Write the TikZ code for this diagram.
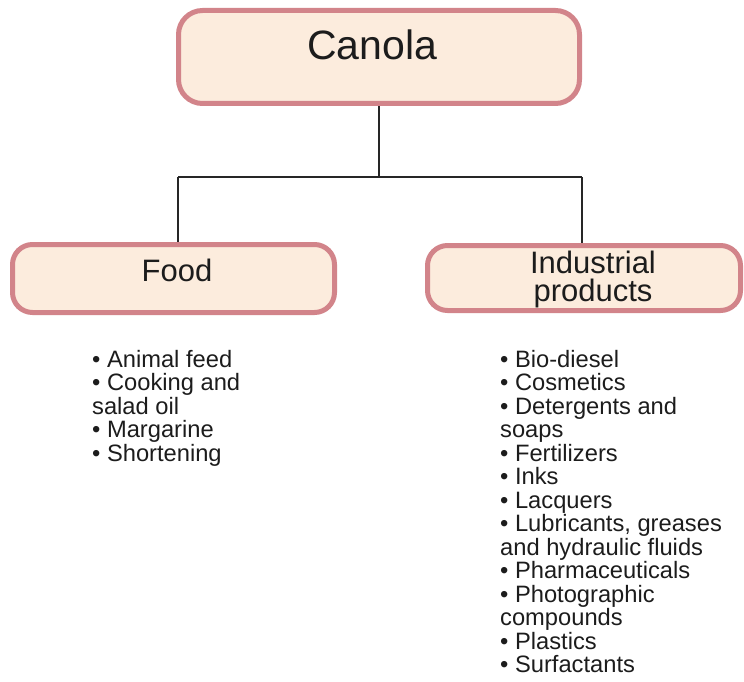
\documentclass[tikz,border=0pt]{standalone}
\usepackage{fontspec}
\setmainfont{Liberation Sans}
\usetikzlibrary{backgrounds}
\definecolor{boxfill}{RGB}{252,236,221}
\definecolor{boxline}{RGB}{210,132,138}
\definecolor{txt}{RGB}{28,28,28}
\begin{document}
\begin{tikzpicture}[x=1pt,y=-1pt,
  box/.style={draw=boxline, line width=5pt, fill=boxfill, rounded corners=20pt, inner sep=0pt},
  conn/.style={draw=black!85, line width=1.5pt},
  title/.style={font=\fontsize{31}{28}\selectfont, text=txt, inner sep=0pt, align=center},
  items/.style={font=\fontsize{23.7}{23.5}\selectfont, text=txt, inner sep=0pt, align=left, anchor=north west}]
\useasboundingbox (0,0) rectangle (744,682);
\node[box, rounded corners=24pt, minimum width=401pt, minimum height=93pt] (canola) at (379,57) {};
\node[box, minimum width=322pt, minimum height=68pt] (food) at (173.5,278.5) {};
\node[box, minimum width=313pt, minimum height=65pt] (ind) at (584,278) {};
\coordinate (jc) at (379,177);
\coordinate (jl) at (178,177);
\coordinate (jr) at (582,177);
\begin{scope}[on background layer]
\draw[conn] (canola.south) -- (jc);
\draw[conn] (jl) -- (jr);
\draw[conn] (jl) -- (jl |- food.north);
\draw[conn] (jr) -- (jr |- ind.north);
\end{scope}
\node[title, font=\fontsize{41}{41}\selectfont, anchor=base] (canolat) at (372,60) {Canola};
\node[title, anchor=base] (foodt) at (177,281) {Food};
\node[title, anchor=north] (indt) at (593,251) {Industrial\\products};
\node[items] (foodl) at (92,350) {• Animal feed\\• Cooking and\\salad oil\\• Margarine\\• Shortening};
\node[items] (indl) at (500,350) {• Bio-diesel\\• Cosmetics\\• Detergents and\\soaps\\• Fertilizers\\• Inks\\• Lacquers\\• Lubricants, greases\\and hydraulic fluids\\• Pharmaceuticals\\• Photographic\\compounds\\• Plastics\\• Surfactants};
\end{tikzpicture}
\end{document}
